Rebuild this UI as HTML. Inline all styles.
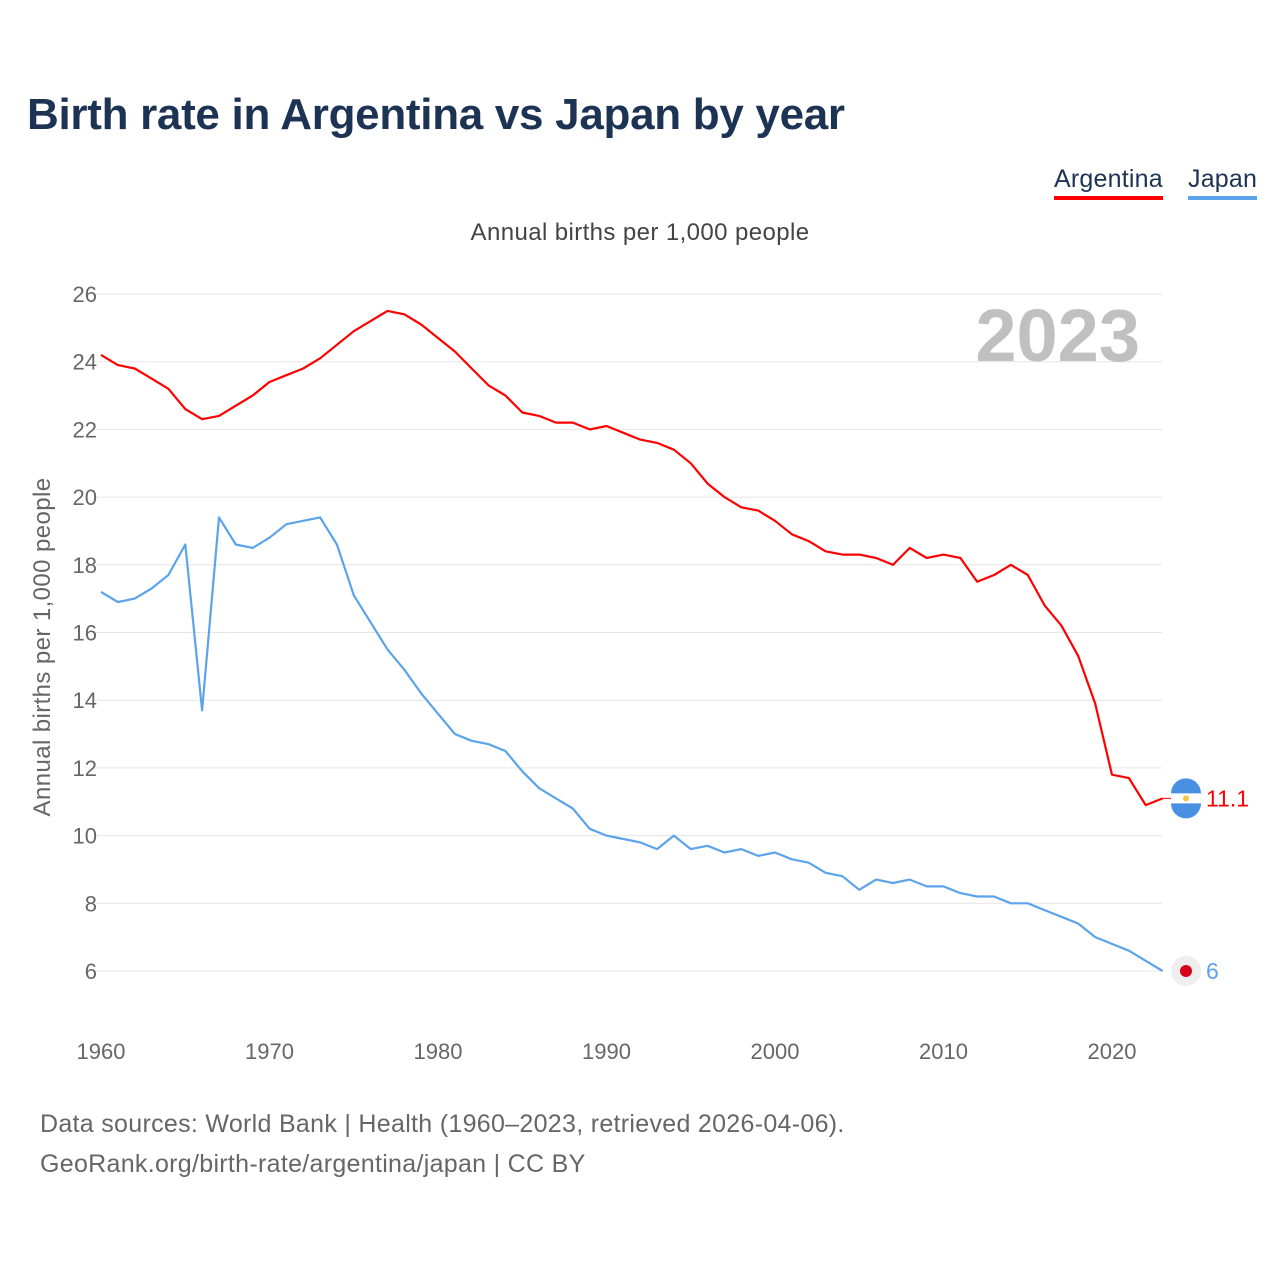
<!DOCTYPE html>
<html><head><meta charset="utf-8">
<style>
html,body{margin:0;padding:0;background:#fff;}
body{width:1280px;height:1280px;position:relative;font-family:"Liberation Sans",sans-serif;overflow:hidden;}
#title{position:absolute;left:27px;top:90px;font-size:44px;font-weight:bold;color:#1d3353;margin:0;letter-spacing:-0.3px;}
.leg{position:absolute;top:165px;font-size:25px;color:#1d3353;padding-bottom:2px;letter-spacing:0.2px;}
#foot{position:absolute;left:40px;top:1104px;font-size:25px;color:#666;line-height:40px;letter-spacing:0.3px;}
svg text{font-family:"Liberation Sans",sans-serif;}
</style></head><body>
<h1 id="title">Birth rate in Argentina vs Japan by year</h1>
<div class="leg" style="left:1054px;border-bottom:4px solid #ff0000;">Argentina</div>
<div class="leg" style="left:1188px;border-bottom:4px solid #5ba3ea;">Japan</div>
<svg id="chart" width="1280" height="1280" style="position:absolute;left:0;top:0"></svg>
<div id="foot">Data sources: World Bank | Health (1960–2023, retrieved 2026-04-06).<br>GeoRank.org/birth-rate/argentina/japan | CC BY</div>
<script>
const years = [];
for (let y = 1960; y <= 2023; y++) years.push(y);
const argentina = [24.2,23.9,23.8,23.5,23.2,22.6,22.3,22.4,22.7,23.0,23.4,23.6,23.8,24.1,24.5,24.9,25.2,25.5,25.4,25.1,24.7,24.3,23.8,23.3,23.0,22.5,22.4,22.2,22.2,22.0,22.1,21.9,21.7,21.6,21.4,21.0,20.4,20.0,19.7,19.6,19.3,18.9,18.7,18.4,18.3,18.3,18.2,18.0,18.5,18.2,18.3,18.2,17.5,17.7,18.0,17.7,16.8,16.2,15.3,13.9,11.8,11.7,10.9,11.1];
const japan = [17.2,16.9,17.0,17.3,17.7,18.6,13.7,19.4,18.6,18.5,18.8,19.2,19.3,19.4,18.6,17.1,16.3,15.5,14.9,14.2,13.6,13.0,12.8,12.7,12.5,11.9,11.4,11.1,10.8,10.2,10.0,9.9,9.8,9.6,10.0,9.6,9.7,9.5,9.6,9.4,9.5,9.3,9.2,8.9,8.8,8.4,8.7,8.6,8.7,8.5,8.5,8.3,8.2,8.2,8.0,8.0,7.8,7.6,7.4,7.0,6.8,6.6,6.3,6.0];
const yTicks = [6,8,10,12,14,16,18,20,22,24,26];
const xTicks = [1960,1970,1980,1990,2000,2010,2020];

const svg = document.getElementById('chart');
const NS = 'http://www.w3.org/2000/svg';
const X = yr => 101 + (yr - 1960) * (1011 / 60);
const Y = v => 971 - (v - 6) * (677 / 20);
function mk(tag, attrs, parent) {
  const e = document.createElementNS(NS, tag);
  for (const k in attrs) e.setAttribute(k, attrs[k]);
  (parent || svg).appendChild(e);
  return e;
}
yTicks.forEach(v => {
  const l = mk('line', {x1: 95, x2: 1162, y1: Y(v), y2: Y(v), stroke: '#e6e6e6', 'stroke-width': 1});
  
  
  const t = mk('text', {x: 97, y: Y(v) + 8, 'text-anchor': 'end', 'font-size': 22, fill: '#666'});
  t.textContent = v;
  
  
});
xTicks.forEach(yr => {
  const t = mk('text', {x: X(yr), y: 1059, 'text-anchor': 'middle', 'font-size': 22, fill: '#666'});
  t.textContent = yr;
  
  
});
const st = mk('text', {x: 640, y: 240, 'text-anchor': 'middle', 'font-size': 24, fill: '#444', 'letter-spacing': 0.4});
st.textContent = 'Annual births per 1,000 people';


const yt = mk('text', {x: 0, y: 0, 'text-anchor': 'middle', 'font-size': 24, fill: '#666', 'letter-spacing': 0.4, transform: 'translate(50,647) rotate(-90)'});
yt.textContent = 'Annual births per 1,000 people';


const yr = mk('text', {x: 1140, y: 361, 'text-anchor': 'end', 'font-size': 74, 'font-weight': 'bold', fill: '#c0c0c0'});
yr.textContent = '2023';


function line(data, color, name) {
  const d = data.map((v, i) => (i ? 'L' : 'M') + X(years[i]).toFixed(1) + ',' + Y(v).toFixed(1)).join('');
  const p = mk('path', {d: d, fill: 'none', stroke: color, 'stroke-width': 2.2, 'stroke-linejoin': 'round'});
  
  
}
line(argentina, '#ff0000', 'line-argentina');
line(japan, '#5ba3ea', 'line-japan');
const aLast = argentina[argentina.length - 1], jLast = japan[japan.length - 1];
const ax = 1186, ay = Y(aLast);
const g1 = mk('g', {});


mk('line', {x1: X(2023), x2: ax - 14, y1: ay, y2: ay, stroke: '#ff0000', 'stroke-width': 1}, g1);
mk('circle', {cx: ax, cy: ay, r: 15, fill: '#fff'}, g1);
mk('path', {d: `M${ax-15},${ay-5} A15,15 0 0 1 ${ax+15},${ay-5} Z`, fill: '#4a90e2'}, g1);
mk('path', {d: `M${ax-15},${ay+5} A15,15 0 0 0 ${ax+15},${ay+5} Z`, fill: '#4a90e2'}, g1);
mk('circle', {cx: ax, cy: ay, r: 3, fill: '#f6c342'}, g1);
const av = mk('text', {x: 1206, y: ay + 8, 'font-size': 23, fill: '#ff0000'});
av.textContent = aLast;


const jy = Y(jLast);
const g2 = mk('g', {});


mk('circle', {cx: ax, cy: jy, r: 15, fill: '#eee'}, g2);
mk('circle', {cx: ax, cy: jy, r: 6, fill: '#d7001a'}, g2);
const jv = mk('text', {x: 1206, y: jy + 8, 'font-size': 23, fill: '#5ba3ea'});
jv.textContent = jLast;


</script>
</body></html>
